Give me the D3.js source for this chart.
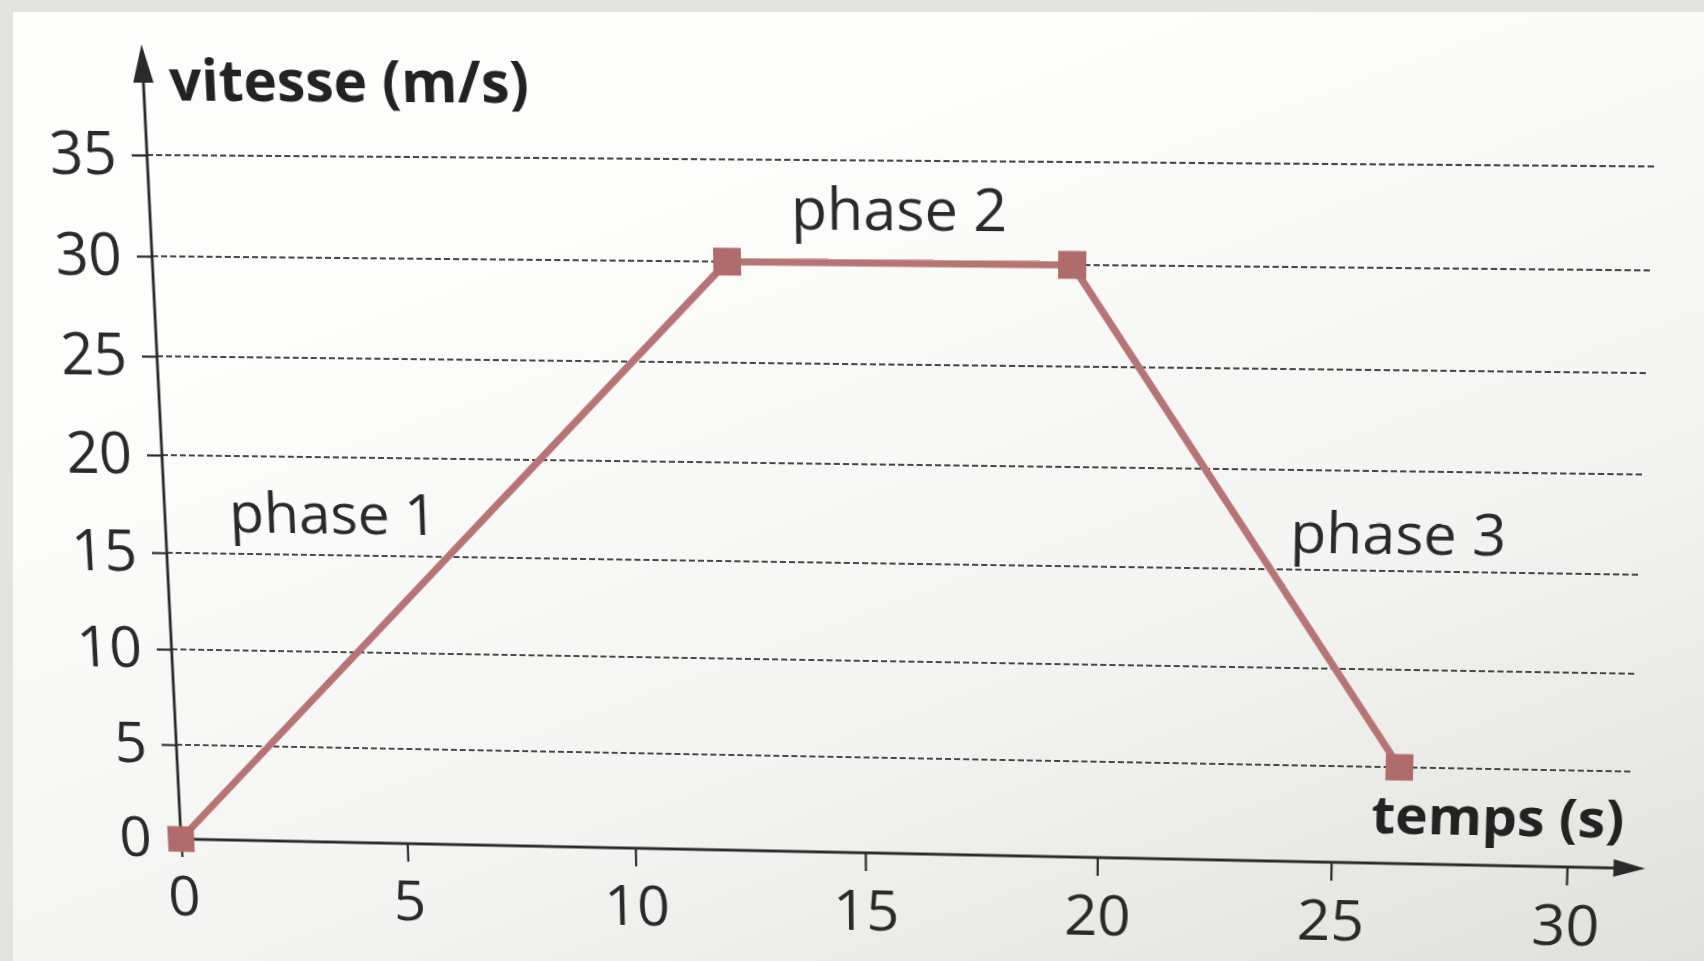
<!DOCTYPE html>
<html>
<head>
<meta charset="utf-8">
<script src="https://cdn.jsdelivr.net/npm/d3@7"></script>
<style>
html, body { margin: 0; padding: 0; width: 1704px; height: 961px; overflow: hidden; background: #e4e4df; }
#paper { position: absolute; left: 0; top: 0; }
#chart { position: absolute; left: 0; top: 0; width: 1704px; height: 961px; transform-origin: 0 0; }
</style>
</head>
<body>
<svg id="paper" width="1704" height="961"></svg>
<div id="chart"></div>
<script>
// data
var temps = [0, 12.2, 19.4, 26.4];
var vitesse = [0, 30, 30, 5];
var xTicks = [0, 5, 10, 15, 20, 25, 30];
var yTicks = [0, 5, 10, 15, 20, 25, 30, 35];
var phases = ["phase 1", "phase 2", "phase 3"];
var xTitle = "temps (s)";
var yTitle = "vitesse (m/s)";

(function () {
    var width = 1704, height = 961;
    var ink = "#2a2a2a";
    var red = "#b77474";

    // paper background (photo of a book page)
    var paper = d3.select("#paper");
    var grad = paper.append("defs").append("linearGradient")
        .attr("id", "pg").attr("x1", 0.45).attr("y1", 0.15).attr("x2", 1).attr("y2", 1);
    grad.append("stop").attr("offset", 0).attr("stop-color", "#fdfdfc");
    grad.append("stop").attr("offset", 0.55).attr("stop-color", "#f3f3f1");
    grad.append("stop").attr("offset", 1).attr("stop-color", "#e0e0dc");
    paper.append("rect").attr("x", 13).attr("y", 12)
        .attr("width", width - 13).attr("height", height - 12).attr("fill", "url(#pg)");

    // flat chart, later bent to the camera angle with a homography
    var x = d3.scaleLinear().domain([0, 30]).range([165, 1553]);
    var y = d3.scaleLinear().domain([0, 35]).range([853, 160]);

    var svg = d3.select("#chart").append("svg")
        .attr("width", width).attr("height", height)
        .style("overflow", "visible");

    // dashed grid
    var gridEnd = 31.3;
    svg.append("g").selectAll("line")
        .data(yTicks.filter(function (d) { return d > 0; }))
        .join("line")
        .attr("x1", x(0)).attr("x2", x(gridEnd))
        .attr("y1", function (d) { return y(d); })
        .attr("y2", function (d) { return y(d); })
        .attr("stroke", "#333").attr("stroke-width", 1.8)
        .attr("stroke-dasharray", "6,3").attr("opacity", 0.9);

    // axes via d3
    var yAxis = svg.append("g").attr("transform", "translate(" + x(0) + ",0)")
        .call(d3.axisLeft(y).tickValues(yTicks).tickSize(15).tickPadding(15));
    var xAxis = svg.append("g").attr("transform", "translate(0," + y(0) + ")")
        .call(d3.axisBottom(x).tickValues(xTicks).tickSize(19).tickPadding(21));
    [xAxis, yAxis].forEach(function (g) {
        g.select(".domain").remove();
        g.selectAll("line").attr("stroke", ink).attr("stroke-width", 2.2);
        g.selectAll("text").attr("fill", ink)
            .style("font-family", "'Open Sans', sans-serif").style("font-size", "58px");
    });
    yAxis.selectAll(".tick").filter(function (d) { return d === 0; }).select("line").remove();

    // axis lines with arrows
    var yTip = 40.4, xTip = 31.65;
    svg.append("line").attr("x1", x(0)).attr("x2", x(0))
        .attr("y1", y(0)).attr("y2", y(yTip) + 20)
        .attr("stroke", ink).attr("stroke-width", 2.8);
    svg.append("path")
        .attr("d", "M" + x(0) + "," + y(yTip) + "L" + (x(0) - 10) + "," + (y(yTip) + 37) +
            "L" + (x(0) + 10) + "," + (y(yTip) + 37) + "Z")
        .attr("fill", ink);
    svg.append("line").attr("x1", x(0)).attr("x2", x(xTip) - 15)
        .attr("y1", y(0)).attr("y2", y(0))
        .attr("stroke", ink).attr("stroke-width", 3);
    svg.append("path")
        .attr("d", "M" + x(xTip) + "," + y(0) + "L" + (x(xTip) - 31) + "," + (y(0) - 9) +
            "L" + (x(xTip) - 31) + "," + (y(0) + 9) + "Z")
        .attr("fill", ink);

    // the speed curve
    var pts = temps.map(function (t, i) { return [t, vitesse[i]]; });
    svg.append("path")
        .attr("d", d3.line().x(function (d) { return x(d[0]); }).y(function (d) { return y(d[1]); })(pts))
        .attr("fill", "none").attr("stroke", red).attr("stroke-width", 7)
        .attr("stroke-linejoin", "round");
    svg.append("g").selectAll("rect").data(pts).join("rect")
        .attr("x", function (d) { return x(d[0]) - 13.5; })
        .attr("y", function (d) { return y(d[1]) - 13.5; })
        .attr("width", 27).attr("height", 27)
        .attr("fill", "#b06b6b");

    // labels (positions in data units)
    var phasePos = [[1.4, 16.1, "start"], [15.8, 31.6, "middle"], [26.25, 15.85, "middle"]];
    svg.append("g").selectAll("text").data(phases).join("text")
        .attr("x", function (d, i) { return x(phasePos[i][0]); })
        .attr("y", function (d, i) { return y(phasePos[i][1]); })
        .attr("text-anchor", function (d, i) { return phasePos[i][2]; })
        .attr("fill", ink)
        .style("font-family", "'Open Sans', sans-serif").style("font-size", "57px")
        .text(function (d) { return d; });

    svg.append("text").attr("x", x(0.55)).attr("y", y(37.7))
        .attr("fill", "#222").style("font-family", "'Open Sans', sans-serif")
        .style("font-size", "55.5px").style("font-weight", "bold")
        .text(yTitle);
    svg.append("text").attr("x", x(28.5)).attr("y", y(1.55))
        .attr("text-anchor", "middle")
        .attr("fill", "#222").style("font-family", "'Open Sans', sans-serif")
        .style("font-size", "54px").style("font-weight", "bold")
        .text(xTitle);

    // homography: flat plot corners -> photographed corners (keystone of the photo)
    var src = [[x(0), y(0)], [x(30), y(0)], [x(0), y(35)], [x(30), y(35)]];
    var dst = [[181, 839], [1567, 867], [147, 155], [1592, 166]];
    var h = homography(src, dst);
    d3.select("#chart").style("transform",
        "matrix3d(" + [h[0], h[3], 0, h[6], h[1], h[4], 0, h[7], 0, 0, 1, 0, h[2], h[5], 0, 1].join(",") + ")");

    function homography(s, d) {
        var A = [], b = [], n = 8, i, r, k, c;
        for (i = 0; i < 4; i++) {
            var px = s[i][0], py = s[i][1], X = d[i][0], Y = d[i][1];
            A.push([px, py, 1, 0, 0, 0, -px * X, -py * X]); b.push(X);
            A.push([0, 0, 0, px, py, 1, -px * Y, -py * Y]); b.push(Y);
        }
        for (c = 0; c < n; c++) {
            var p = c;
            for (r = c + 1; r < n; r++) if (Math.abs(A[r][c]) > Math.abs(A[p][c])) p = r;
            var tmp = A[c]; A[c] = A[p]; A[p] = tmp;
            tmp = b[c]; b[c] = b[p]; b[p] = tmp;
            for (r = c + 1; r < n; r++) {
                var f = A[r][c] / A[c][c];
                for (k = c; k < n; k++) A[r][k] -= f * A[c][k];
                b[r] -= f * b[c];
            }
        }
        var out = new Array(n);
        for (r = n - 1; r >= 0; r--) {
            var sum = b[r];
            for (k = r + 1; k < n; k++) sum -= A[r][k] * out[k];
            out[r] = sum / A[r][r];
        }
        return out;
    }
})();
</script>
</body>
</html>
